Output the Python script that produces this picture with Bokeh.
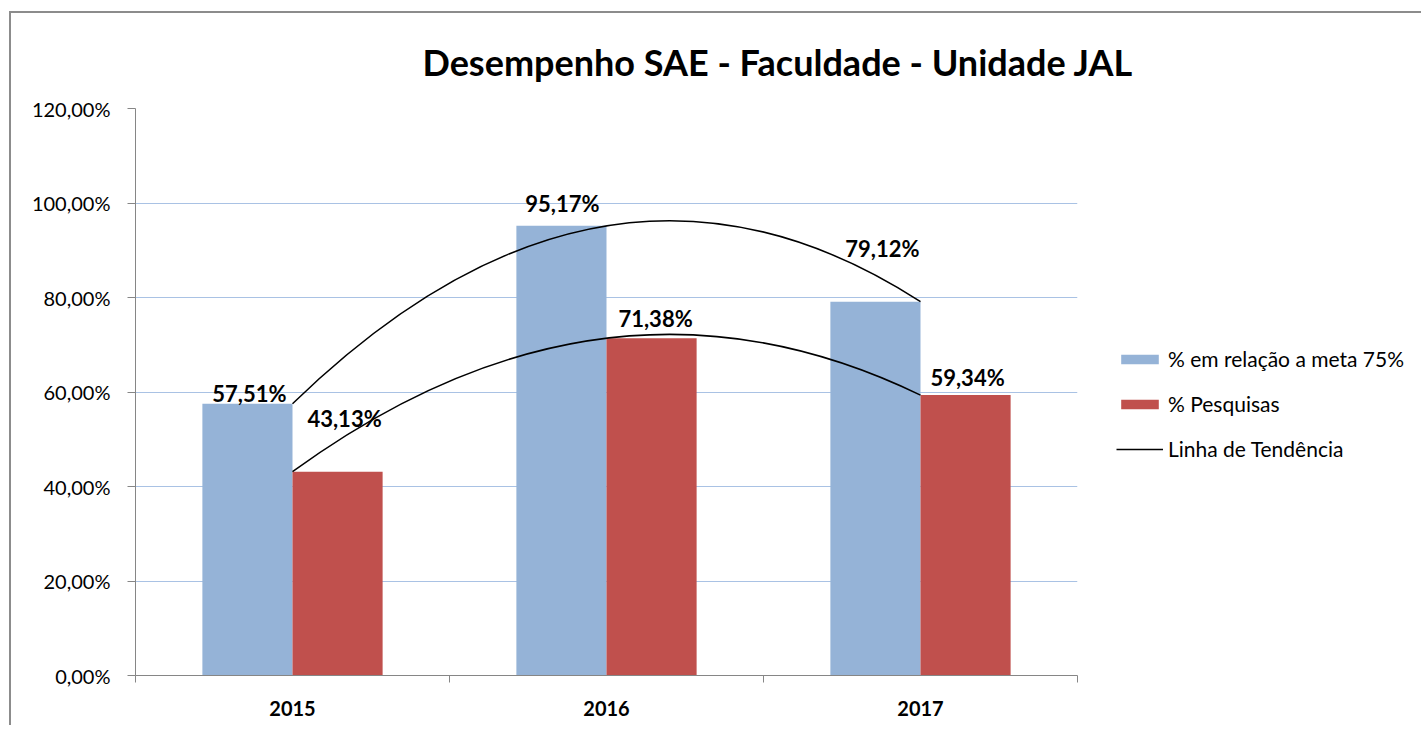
import numpy as np
from bokeh.plotting import figure
from bokeh.models import (Range1d, FixedTicker, CustomJSTickFormatter, Legend,
                          LegendItem, ColumnDataSource)
from bokeh.embed import file_html
from bokeh.resources import INLINE
from bokeh.core.properties import value

# ---------------- data ----------------
years = ["2015", "2016", "2017"]
meta = [57.51, 95.17, 79.12]          # % em relação a meta 75%
pesquisas = [43.13, 71.38, 59.34]     # % Pesquisas
meta_labels = ["57,51%", "95,17%", "79,12%"]
pesq_labels = ["43,13%", "71,38%", "59,34%"]
y_ticks = [0, 20, 40, 60, 80, 100, 120]
series_names = ["% em relação a meta 75%", "% Pesquisas", "Linha de Tendência"]
title_text = "Desempenho SAE - Faculdade  - Unidade JAL"

# ---------------- styles / positions ----------------
FONT = "Lato"
BLUE = "#95B3D7"
RED = "#C0504D"
AXIS = "#868686"
GRID = "#A9C2E4"
BAR_W = 0.287
meta_lbl_dx = [2, 1, 7]
meta_lbl_dy = [10, 22, 53]
pesq_lbl_dx = [7, 4, 2]
pesq_lbl_dy = [53, 20, 18]

centers = [i + 0.5 for i in range(len(years))]

W, H = 1410, 712
p = figure(width=W, height=H, output_backend="svg", toolbar_location=None,
           x_range=Range1d(0, len(years)), y_range=Range1d(0, 120),
           min_border_left=124, min_border_top=95, min_border_bottom=H - 95 - 567,
           min_border_right=W - 124 - 942,
           frame_width=942, frame_height=567)
p.margin = (11, 0, 0, 9)
p.styles = {"border-top": "2px solid #8C8C8C", "border-left": "2px solid #8C8C8C",
            "border-right": "0px none", "border-bottom": "0px none",
            "outline": "none", "box-shadow": "none"}
p.outline_line_color = None
p.background_fill_color = "white"
p.border_fill_color = "white"

# title
p.title.text = title_text
p.title.text_font = FONT
p.title.text_font_style = "bold"
p.title.text_font_size = "36px"
p.title.text_color = "black"
p.title.align = "left"
p.title.offset = 287
p.title.standoff = 49

# bars
src_m = ColumnDataSource(dict(x=[c - BAR_W / 2 for c in centers], top=meta,
                              lbl=meta_labels, dx=meta_lbl_dx,
                              dy=[-d for d in meta_lbl_dy]))
src_p = ColumnDataSource(dict(x=[c + BAR_W / 2 for c in centers], top=pesquisas,
                              lbl=pesq_labels, dx=pesq_lbl_dx,
                              dy=[-d for d in pesq_lbl_dy]))
r_m = p.vbar(x="x", top="top", width=BAR_W, source=src_m, fill_color=BLUE, line_color=None)
r_p = p.vbar(x="x", top="top", width=BAR_W, source=src_p, fill_color=RED, line_color=None)

# trend lines (2nd-order polynomial through the 3 points -> exact quadratic bezier)
def trend(vals):
    return dict(x0=centers[0], y0=vals[0], x1=centers[-1], y1=vals[-1],
                cx=centers[1], cy=2 * vals[1] - (vals[0] + vals[2]) / 2)

r_t1 = p.quadratic(**trend(meta), line_color="black", line_width=1.5)
r_t2 = p.quadratic(**trend(pesquisas), line_color="black", line_width=1.5)

# data labels
for src in (src_m, src_p):
    p.text(x="x", y="top", text="lbl", source=src, x_offset="dx", y_offset="dy",
           text_font=value(FONT), text_font_style="bold", text_font_size="22px",
           text_color="black", text_align="center", text_baseline="alphabetic")

# axes
p.yaxis.ticker = FixedTicker(ticks=y_ticks)
p.yaxis.formatter = CustomJSTickFormatter(
    code="return tick.toFixed(2).replace('.', ',') + '%';")
p.yaxis.axis_line_color = AXIS
p.yaxis.major_tick_line_color = AXIS
p.yaxis.major_tick_out = 8
p.yaxis.major_tick_in = 0
p.yaxis.minor_tick_line_color = None
p.yaxis.major_label_standoff = 17
p.yaxis.major_label_text_font = FONT
p.yaxis.major_label_text_font_size = "20px"
p.yaxis.major_label_text_color = "black"

p.xaxis.ticker = FixedTicker(ticks=centers, minor_ticks=list(range(len(years) + 1)))
p.xaxis.major_label_overrides = {c: y for c, y in zip(centers, years)}
p.xaxis.axis_line_color = AXIS
p.xaxis.major_tick_line_color = None
p.xaxis.major_tick_out = 0
p.xaxis.major_tick_in = 0
p.xaxis.minor_tick_line_color = AXIS
p.xaxis.minor_tick_out = 7
p.xaxis.minor_tick_in = 0
p.xaxis.major_label_standoff = 18
p.xaxis.major_label_text_font = FONT
p.xaxis.major_label_text_font_style = "bold"
p.xaxis.major_label_text_font_size = "20px"
p.xaxis.major_label_text_color = "black"

p.xgrid.visible = False
p.ygrid.ticker = FixedTicker(ticks=y_ticks)
p.ygrid.grid_line_color = GRID
p.ygrid.grid_line_width = 1

# legend
legend = Legend(items=[LegendItem(label=series_names[0], renderers=[r_m]),
                       LegendItem(label=series_names[1], renderers=[r_p]),
                       LegendItem(label=series_names[2], renderers=[r_t1])],
                location=(39, 214), orientation="vertical",
                glyph_width=47, glyph_height=12, label_height=22, spacing=20,
                label_standoff=5, padding=0, margin=0,
                border_line_color=None, background_fill_alpha=0,
                label_text_font=FONT, label_text_font_size="21px",
                label_text_color="black")
p.add_layout(legend, "right")

open("out.html", "w").write(file_html(p, INLINE))
